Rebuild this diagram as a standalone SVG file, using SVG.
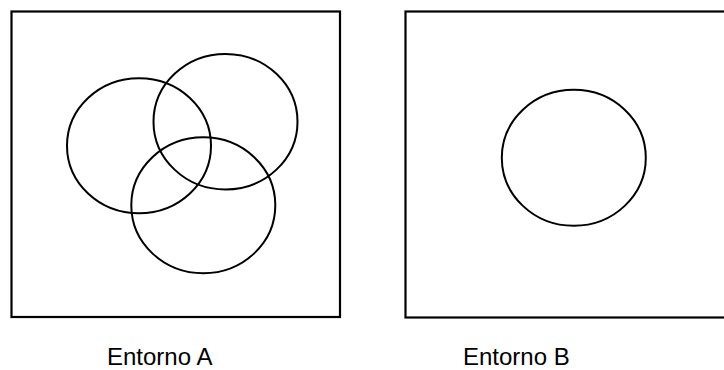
<svg xmlns="http://www.w3.org/2000/svg" width="724" height="370" viewBox="0 0 724 370">
<style>
.frame{fill:none;stroke:#000;stroke-width:2.2}
.set{fill:none;stroke:#000;stroke-width:2}
.lbl{font-family:"Liberation Sans",Arial,sans-serif;font-size:24px;fill:#000}
</style>
<rect width="724" height="370" fill="#fff"/>
<g id="entornoA">
<rect class="frame" x="11.5" y="11.5" width="328.5" height="305.5"/>
<ellipse id="setA1" class="set" cx="139" cy="145.7" rx="72" ry="67.5"/>
<ellipse id="setA2" class="set" cx="225.5" cy="121.7" rx="72" ry="67.8"/>
<ellipse id="setA3" class="set" cx="203.3" cy="205.3" rx="72" ry="68"/>
<text class="lbl" x="107" y="364.5">Entorno A</text>
</g>
<g id="entornoB">
<rect class="frame" x="405.5" y="11.5" width="330" height="306"/>
<ellipse id="setB1" class="set" cx="573.8" cy="157.8" rx="72" ry="68"/>
<text class="lbl" x="463" y="364.5">Entorno B</text>
</g>
<g id="connectors"/>
</svg>
